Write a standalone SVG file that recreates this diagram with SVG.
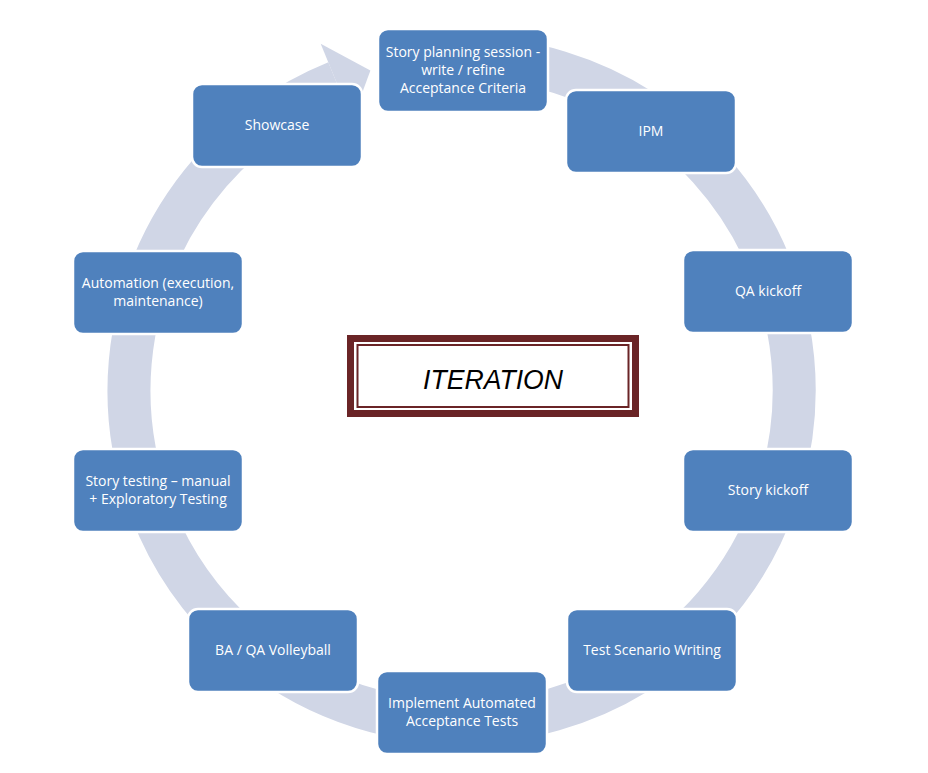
<svg xmlns="http://www.w3.org/2000/svg" width="928" height="773" viewBox="0 0 928 773">
<style>
.box{fill:#4f81bd;stroke:#ffffff;stroke-width:2.5}
.lbl{fill:#ffffff;font-family:"Open Sans","Liberation Sans",sans-serif;font-size:14px;text-anchor:middle}
.ring{fill:none;stroke:#d0d6e6;stroke-width:43}
</style>
<rect width="928" height="773" fill="#ffffff"/>
<g id="connectors">
<path class="ring" d="M404.3,62.6 A332.5,332.5 0 1 1 336.4,82.1"/>
<polygon points="320.7,43.7 370.4,70.4 352,120.6" fill="#d0d6e6"/>
</g>
<g id="center">
<rect x="350.5" y="338.5" width="285" height="75" fill="#ffffff" stroke="#6a2426" stroke-width="7"/>
<rect x="357.5" y="345" width="271" height="62" fill="none" stroke="#6a2426" stroke-width="2"/>
<text x="493" y="389" font-family="'Liberation Sans',sans-serif" font-style="italic" font-size="28" text-anchor="middle" textLength="140" lengthAdjust="spacingAndGlyphs" fill="#000000">ITERATION</text>
</g>
<g id="n-story-planning">
<rect class="box" x="378" y="29" width="170" height="83" rx="10"/>
<text class="lbl" x="463" y="57">Story planning session -</text>
<text class="lbl" x="463" y="75">write / refine</text>
<text class="lbl" x="463" y="93">Acceptance Criteria</text>
</g>
<g id="n-ipm">
<rect class="box" x="566" y="90" width="170" height="83" rx="10"/>
<text class="lbl" x="651" y="136">IPM</text>
</g>
<g id="n-qa-kickoff">
<rect class="box" x="683" y="250" width="170" height="83" rx="10"/>
<text class="lbl" x="768" y="296">QA kickoff</text>
</g>
<g id="n-story-kickoff">
<rect class="box" x="683" y="449" width="170" height="83" rx="10"/>
<text class="lbl" x="768" y="495">Story kickoff</text>
</g>
<g id="n-test-scenario">
<rect class="box" x="567" y="609" width="170" height="83" rx="10"/>
<text class="lbl" x="652" y="655">Test Scenario Writing</text>
</g>
<g id="n-implement">
<rect class="box" x="377" y="671" width="170" height="83" rx="10"/>
<text class="lbl" x="462" y="708">Implement Automated</text>
<text class="lbl" x="462" y="726">Acceptance Tests</text>
</g>
<g id="n-ba-qa">
<rect class="box" x="188" y="609" width="170" height="83" rx="10"/>
<text class="lbl" x="273" y="655">BA / QA Volleyball</text>
</g>
<g id="n-story-testing">
<rect class="box" x="73" y="449" width="170" height="83" rx="10"/>
<text class="lbl" x="158" y="486">Story testing – manual</text>
<text class="lbl" x="158" y="504">+ Exploratory Testing</text>
</g>
<g id="n-automation">
<rect class="box" x="73" y="251" width="170" height="83" rx="10"/>
<text class="lbl" x="158" y="288">Automation (execution,</text>
<text class="lbl" x="158" y="306">maintenance)</text>
</g>
<g id="n-showcase">
<rect class="box" x="192" y="84" width="170" height="83" rx="10"/>
<text class="lbl" x="277" y="130">Showcase</text>
</g>
</svg>
